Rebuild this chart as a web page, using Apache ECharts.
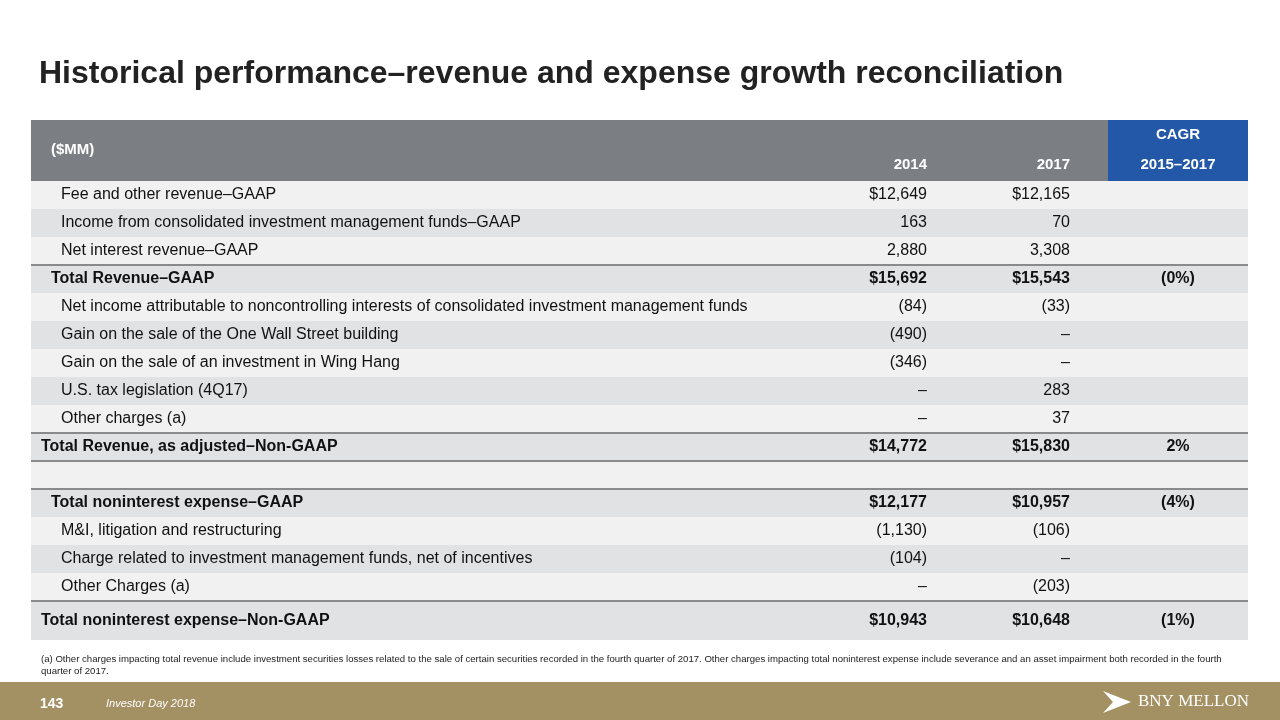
<!DOCTYPE html>
<html><head><meta charset="utf-8">
<script src="https://cdn.jsdelivr.net/npm/echarts@6/dist/echarts.min.js"></script>
<style>html,body{margin:0;padding:0;background:#fff}#c{width:1280px;height:720px}</style>
</head><body><div id="c"></div>
<script>
// ---- data ----
const rowLabels = [
  'Fee and other revenue–GAAP',
  'Income from consolidated investment management funds–GAAP',
  'Net interest revenue–GAAP',
  'Total Revenue–GAAP',
  'Net income attributable to noncontrolling interests of consolidated investment management funds',
  'Gain on the sale of the One Wall Street building',
  'Gain on the sale of an investment in Wing Hang',
  'U.S. tax legislation (4Q17)',
  'Other charges (a)',
  'Total Revenue, as adjusted–Non-GAAP',
  '',
  'Total noninterest expense–GAAP',
  'M&I, litigation and restructuring',
  'Charge related to investment management funds, net of incentives',
  'Other Charges (a)',
  'Total noninterest expense–Non-GAAP'
];
// row kind: item = detail line, sub = GAAP total, total = adjusted total, blank = spacer
const rowKinds = ['item','item','item','sub','item','item','item','item','item','total','blank','sub','item','item','item','total'];
const values2014 = [12649, 163, 2880, 15692, -84, -490, -346, null, null, 14772, null, 12177, -1130, -104, null, 10943];
const values2017 = [12165, 70, 3308, 15543, -33, null, null, 283, 37, 15830, null, 10957, -106, null, -203, 10648];
const cagrLabels = ['', '', '', '(0%)', '', '', '', '', '', '2%', '', '(4%)', '', '', '', '(1%)'];
const headerLabels = { unit: '($MM)', y1: '2014', y2: '2017', cagr1: 'CAGR', cagr2: '2015–2017' };

// ---- layout ----
const GL = 31, GW = 1217, GT = 181, RH = 28;
const col2014Right = 896, col2017Right = 1039, cagrLeft = 1077, cagrCenter = 1147;
const indent = { item: 30, sub: 20, total: 10, blank: 0 };
const FONT = '"Liberation Sans", Arial, sans-serif';

function fmt(v, kind, i) {
  if (kind === 'blank') return '';
  if (v === null) return '–';
  const s = Math.abs(v).toLocaleString('en-US');
  if (v < 0) return '(' + s + ')';
  return (kind === 'item' && i !== 0 ? '' : '$') + s;
}

const chart = echarts.init(document.getElementById('c'), null, { renderer: 'canvas' });

function renderRow(params, api) {
  const i = api.value(1);
  const kind = rowKinds[i];
  const c = api.coord([0, i]);
  const h = api.size([0, 1])[1];
  const last = i === rowLabels.length - 1;
  const extra = last ? 11 : 0;
  const top = c[1] - h / 2;
  const cy = c[1] + extra / 2;
  const left = params.coordSys.x, width = params.coordSys.width;
  const bold = kind !== 'item';
  const ts = (text, x, align) => ({
    type: 'text',
    style: { text: text, x: x, y: cy, align: align, verticalAlign: 'middle',
      fontFamily: FONT, fontSize: 16, fontWeight: bold ? 'bold' : 'normal', fill: '#111' }
  });
  const children = [
    { type: 'rect', shape: { x: left, y: top, width: width, height: h + extra },
      style: { fill: i % 2 === 0 ? '#f1f1f1' : '#e1e2e4' } },
    ts(rowLabels[i], left + indent[kind], 'left'),
    ts(fmt(values2014[i], kind, i), api.coord([col2014Right, i])[0], 'right'),
    ts(fmt(values2017[i], kind, i), api.coord([col2017Right, i])[0], 'right'),
    ts(cagrLabels[i], api.coord([cagrCenter, i])[0], 'center')
  ];
  if (kind !== 'item') {
    children.push({ type: 'line', shape: { x1: left, y1: top, x2: left + width, y2: top },
      style: { stroke: '#8a8a8a', lineWidth: 2 } });
  }
  return { type: 'group', children: children };
}

const hdrTop = 120, hdrBot = GT;
const white = (text, x, y, align, extra) => Object.assign({
  type: 'text', style: Object.assign({ text: text, x: x, y: y, align: align, verticalAlign: 'middle',
    fontFamily: FONT, fontSize: 15, fontWeight: 'bold', fill: '#fff' }, extra || {}) });

chart.setOption({
  animation: false,
  backgroundColor: '#ffffff',
  grid: { left: GL, top: GT, width: GW, height: RH * rowLabels.length },
  xAxis: { type: 'value', min: 0, max: GW, show: false },
  yAxis: { type: 'category', data: rowLabels, inverse: true, show: false },
  series: [{
    type: 'custom',
    renderItem: renderRow,
    encode: { x: 0, y: 1 },
    data: rowLabels.map((_, i) => [0, i])
  }],
  graphic: [
    { type: 'text', style: { text: 'Historical performance–revenue and expense growth reconciliation',
      x: 39, y: 74, verticalAlign: 'middle', fontFamily: FONT, fontSize: 32, fontWeight: 'bold', fill: '#222' } },
    { type: 'rect', shape: { x: GL, y: hdrTop, width: cagrLeft, height: hdrBot - hdrTop }, style: { fill: '#7b7e83' } },
    { type: 'rect', shape: { x: GL + cagrLeft, y: hdrTop, width: GW - cagrLeft, height: hdrBot - hdrTop }, style: { fill: '#2358a8' } },
    white(headerLabels.unit, GL + 20, 150, 'left'),
    white(headerLabels.y1, GL + col2014Right, 165, 'right'),
    white(headerLabels.y2, GL + col2017Right, 165, 'right'),
    white(headerLabels.cagr1, GL + cagrCenter, 135, 'center'),
    white(headerLabels.cagr2, GL + cagrCenter, 165, 'center'),
    { type: 'text', style: { text: '(a) Other charges impacting total revenue include investment securities losses related to the sale of certain securities recorded in the fourth quarter of 2017. Other charges impacting total noninterest expense include severance and an asset impairment both recorded in the fourth\nquarter of 2017.',
      x: 41, y: 654, fontFamily: FONT, fontSize: 9.6, lineHeight: 11.5, fill: '#222' } },
    { type: 'rect', shape: { x: 0, y: 682, width: 1280, height: 38 }, style: { fill: '#a39063' } },
    { type: 'text', style: { text: '143', x: 40, y: 704, verticalAlign: 'middle', fontFamily: FONT, fontSize: 14, fontWeight: 'bold', fill: '#fff' } },
    { type: 'text', style: { text: 'Investor Day 2018', x: 106, y: 704, verticalAlign: 'middle', fontFamily: FONT, fontSize: 11, fontStyle: 'italic', fill: '#fff' } },
    { type: 'polygon', shape: { points: [[1103, 691], [1131, 702], [1103, 713], [1113, 702]] }, style: { fill: '#fff' } },
    { type: 'text', style: { text: 'BNY MELLON', x: 1138, y: 702, verticalAlign: 'middle', fontFamily: '"Liberation Serif", serif', fontSize: 17, fill: '#fff' } }
  ]
});
</script></body></html>
